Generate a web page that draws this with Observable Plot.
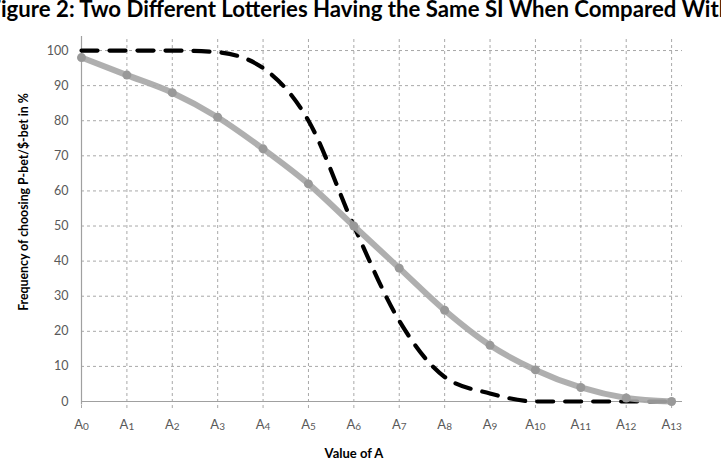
<!DOCTYPE html>
<html>
<head>
<meta charset="utf-8">
<script src="https://cdn.jsdelivr.net/npm/d3@7"></script>
<script src="https://cdn.jsdelivr.net/npm/@observablehq/plot@0.6"></script>
<style>
  html, body { margin: 0; padding: 0; background: #fff; width: 721px; height: 464px; overflow: hidden; }
  #wrap { position: relative; width: 721px; height: 464px; overflow: hidden; }
  #title { position: absolute; top: -5px; left: -11px; white-space: nowrap; font-family: Lato, "Open Sans", sans-serif; font-weight: bold; font-size: 22px; color: #000; }
  #ytitle { position: absolute; left: 23px; top: 202px; transform: translate(-50%, -50%) rotate(-90deg); white-space: nowrap; font-family: Lato, "Open Sans", sans-serif; font-weight: bold; font-size: 12.3px; color: #000; }
  #xtitle { position: absolute; left: 354px; top: 453px; transform: translate(-50%, -50%); white-space: nowrap; font-family: Lato, "Open Sans", sans-serif; font-weight: bold; font-size: 13px; color: #000; }
  svg { position: absolute; left: 0; top: 0; }
</style>
</head>
<body>
<div id="wrap">
  <div id="chart"></div>
  <div id="title">Figure 2: Two Different Lotteries Having the Same SI When Compared With</div>
  <div id="ytitle">Frequency of choosing P-bet/$-bet in %</div>
  <div id="xtitle">Value of A</div>
</div>
<script>
// Categories (A0..A13): letter + subscript index
const categoryLetter = "A";
const categoryIndex = ["0","1","2","3","4","5","6","7","8","9","10","11","12","13"];
// Gray solid series with markers
const graySeries = [98, 93, 88, 81, 72, 62, 50, 38, 26, 16, 9, 4, 1, 0];
// Black dashed series
const dashedSeries = [100, 100, 100, 99.5, 95, 80, 50, 23, 7, 2.3, 0, 0, 0, 0];
// Y tick values
const yTicks = [0, 10, 20, 30, 40, 50, 60, 70, 80, 90, 100];

const idx = categoryIndex.map((_, i) => i);
const grayData = idx.map(i => ({x: i, y: graySeries[i]}));
const dashData = idx.map(i => ({x: i, y: dashedSeries[i]}));
const xMax = 13.24;

const plot = Plot.plot({
  width: 721,
  height: 464,
  marginLeft: 81,
  marginRight: 39,
  marginTop: 36,
  marginBottom: 63,
  style: {fontFamily: "Lato, 'Open Sans', sans-serif", background: "transparent"},
  x: {domain: [0, xMax], axis: null},
  y: {domain: [0, 104], axis: null},
  marks: [
    Plot.ruleY(yTicks.filter(v => v > 0), {x1: 0, x2: xMax, stroke: "#a8a8a8", strokeWidth: 1, strokeDasharray: "3,3"}),
    Plot.ruleX(idx, {x: d => d, y1: -2, y2: 104, stroke: "#a8a8a8", strokeWidth: 1, strokeDasharray: "3,3"}),
    Plot.ruleY([0], {x1: 0, x2: xMax, stroke: "#a0a0a0", strokeWidth: 1.2}),
    Plot.ruleX([0], {y1: -1, y2: 104, stroke: "#a0a0a0", strokeWidth: 1.2}),
    Plot.text(yTicks, {x: 0, y: d => d, text: d => String(d), dx: -13, textAnchor: "end", fill: "#595959", fontSize: 12.5}),
    Plot.text(idx, {x: d => d, y: 0, text: d => categoryLetter + "\u200b" + categoryIndex[d], dy: 23, textAnchor: "middle", fill: "#595959", fontSize: 13, className: "xtick"}),
    Plot.line(dashData, {x: "x", y: "y", curve: "monotone-x", stroke: "#000", strokeWidth: 4.2, strokeDasharray: "16,12"}),
    Plot.line(grayData, {x: "x", y: "y", curve: "monotone-x", stroke: "#a6a6a6", strokeWidth: 6, strokeOpacity: 0.9}),
    Plot.dot(grayData, {x: "x", y: "y", r: 4.5, fill: "#999999", stroke: "none"})
  ]
});
document.getElementById("chart").appendChild(plot);

// Render x tick subscripts as smaller digits via tspans
d3.select(plot).selectAll("g.xtick text").each(function() {
  const t = d3.select(this);
  const parts = t.text().split("\u200b");
  t.text(null);
  t.append("tspan").text(parts[0]);
  t.append("tspan").attr("font-size", 10).attr("dy", "0.15em").text(parts[1]);
});

// Fit the (cropped) title so that "igure ... Wit" spans the width
(function fitTitle() {
  const el = document.getElementById("title");
  const full = el.textContent;
  const c = document.createElement("canvas").getContext("2d");
  c.font = "bold 20px Lato";
  const wF = c.measureText("F").width;
  const wVisible = c.measureText(full.slice(1, full.length - 1)).width;
  const size = 20 * 719 / wVisible;
  el.style.fontSize = size + "px";
  el.style.left = (1 - wF * size / 20) + "px";
})();
</script>
</body>
</html>
